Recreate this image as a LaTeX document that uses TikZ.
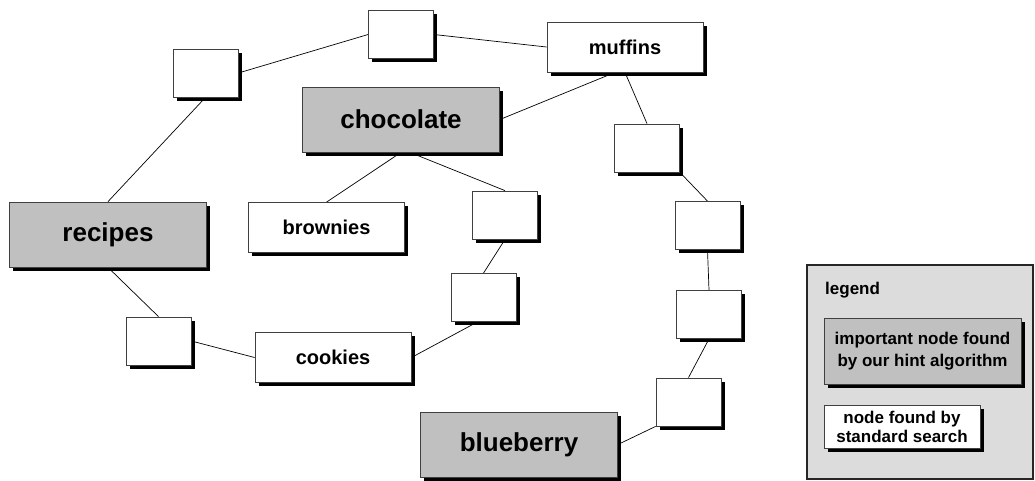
\documentclass[tikz,border=0pt]{standalone}
\usepackage{fontspec}
\setmainfont{Liberation Sans}
\usetikzlibrary{shadows}
\usetikzlibrary{backgrounds}

\definecolor{keygray}{HTML}{C0C0C0}
\definecolor{legendgray}{HTML}{DCDCDC}

\tikzset{
  box/.style={rectangle, draw=black!75, line width=0.8pt, inner sep=0pt,
    drop shadow={shadow xshift=3.5pt, shadow yshift=-3.5pt, fill=black, opacity=1}},
  keynode/.style={box, fill=keygray, minimum width=197pt, minimum height=65pt,
    font=\fontsize{26}{30}\bfseries\selectfont},
  wordnode/.style={box, fill=white, minimum width=156pt, minimum height=50pt,
    font=\fontsize{20}{24}\bfseries\selectfont},
  blank/.style={box, fill=white, minimum width=65pt, minimum height=48pt},
  legendtext/.style={font=\fontsize{17}{21}\bfseries\selectfont, align=center},
  link/.style={line width=0.7pt}
}

\begin{document}
\begin{tikzpicture}[x=1pt,y=-1pt]
            \useasboundingbox (0,0) rectangle (1035,480);
            \node[keynode] (recipes) at (108,234.5) {recipes};
            \node[keynode] (chocolate) at (401,119.5) {chocolate};
            \node[keynode] (blueberry) at (519,444.5) {blueberry};
            \node[wordnode] (muffins) at (625,47) {muffins};
            \node[wordnode] (brownies) at (326.5,227.5) {brownies};
            \node[wordnode] (cookies) at (333,357.5) {cookies};
            \node[blank] (B1) at (205.5,73) {};
            \node[blank] (B2) at (401,34.5) {};
            \node[blank] (B3) at (647,148) {};
            \node[blank] (B4) at (505,215) {};
            \node[blank] (B5) at (707.5,225.5) {};
            \node[blank] (B6) at (483.5,297.5) {};
            \node[blank] (B7) at (709,314.5) {};
            \node[blank] (B8) at (158.5,341) {};
            \node[blank] (B9) at (688.5,402) {};
            \begin{scope}[on background layer]
            \draw[link] (B1.east) to (B2.west);
            \draw[link] (B1.south) to (recipes.north);
            \draw[link] (B2.east) to (muffins.west);
            \draw[link] (chocolate.east) to ([xshift=-10pt]muffins.south);
            \draw[link] (muffins.south) to (B3.north);
            \draw[link] (chocolate.south) to (brownies.north);
            \draw[link] ([xshift=9pt]chocolate.south) to (B4.north);
            \draw[link] (B4.south) to (B6.north);
            \draw[link] ([xshift=-6pt]B6.south) to (cookies.east);
            \draw[link] (recipes.south) to (B8.north);
            \draw[link] (B8.east) to (cookies.west);
            \draw[link] (B3.south east) to (B5.north);
            \draw[link] (B5.south) to (B7.north);
            \draw[link] (B7.south) to (B9.north);
            \draw[link] (B9.south west) to (blueberry.east);
            \end{scope}
            % legend
            \node[rectangle, draw=black!85, line width=1.2pt, fill=legendgray,
              minimum width=226pt, minimum height=214pt] (legend) at (920,372) {};
            \node[legendtext, anchor=base west, inner sep=0pt] (legendtitle) at (825,294) {legend};
            \node[box, fill=keygray, minimum width=197pt, minimum height=66pt, legendtext,
              font=\fontsize{17}{22}\bfseries\selectfont]
              (legendkey) at (922.5,351) {important node found\\by our hint algorithm};
            \node[box, fill=white, minimum width=156pt, minimum height=43pt, legendtext,
              font=\fontsize{17}{19}\bfseries\selectfont]
              (legendword) at (902,426.5) {node found by\\standard search};
        \end{tikzpicture}
\end{document}
